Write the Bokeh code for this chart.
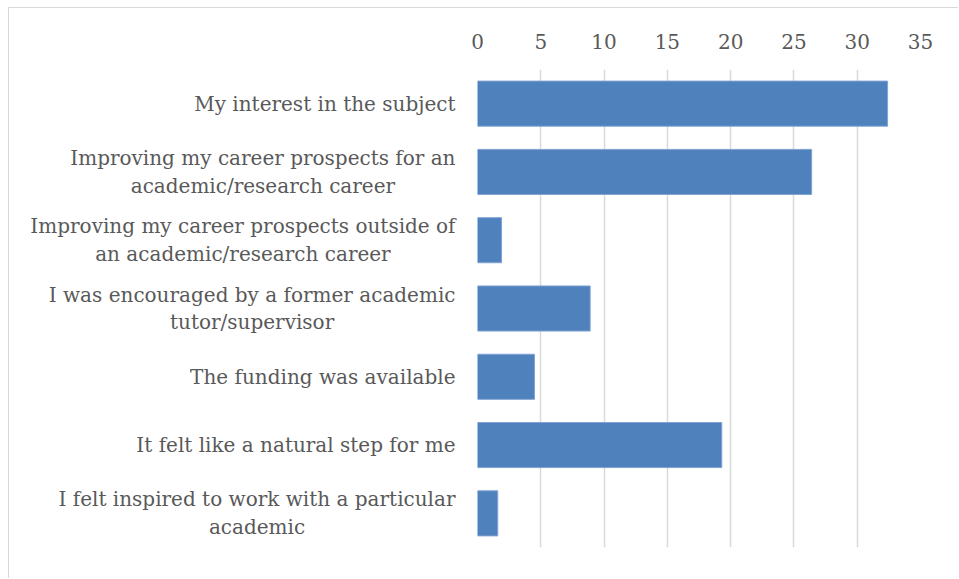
from bokeh.plotting import figure
from bokeh.models import FactorRange, Range1d, FixedTicker, ColumnDataSource
from bokeh.core.properties import value
from bokeh.embed import file_html
from bokeh.resources import INLINE

# Data (top to bottom)
categories = [
    "My interest in the subject",
    "Improving my career prospects for an academic/research career",
    "Improving my career prospects outside of an academic/research career",
    "I was encouraged by a former academic tutor/supervisor",
    "The funding was available",
    "It felt like a natural step for me",
    "I felt inspired to work with a particular academic",
]
tick_labels = [
    "My interest in the subject",
    "Improving my career prospects for an\nacademic/research career",
    "Improving my career prospects outside of\nan academic/research career",
    "I was encouraged by a former academic\ntutor/supervisor",
    "The funding was available",
    "It felt like a natural step for me",
    "I felt inspired to work with a particular\nacademic",
]
values = [32.4, 26.4, 1.9, 8.9, 4.5, 19.3, 1.6]
x_ticks = [0, 5, 10, 15, 20, 25, 30, 35]

FONT = "DejaVu Serif"
TXT = "#595959"
GRID = "#D9D9D9"

p = figure(
    width=950, height=571,
    y_range=FactorRange(factors=list(reversed(categories)), range_padding=0),
    x_range=Range1d(0, 35),
    x_axis_location="above",
    output_backend="svg", toolbar_location=None,
    min_border_left=468, min_border_right=39,
    min_border_top=61, min_border_bottom=32,
)
p.styles = {
    "border-left": "1.5px solid #D9D9D9",
    "border-top": "1.5px solid #D9D9D9",
    "margin-left": "7.5px",
    "margin-top": "6.5px",
}
p.outline_line_color = None

p.hbar(y=categories, right=values, left=0, height=0.66,
       fill_color="#4F81BD", line_color="#7FA3D3", line_width=1)

src = ColumnDataSource(dict(y=categories, x=[0] * len(categories), t=tick_labels))
lab = p.text(x="x", y="y", text="t", source=src, x_offset=-22,
             anchor="center_right", text_align="center",
             text_font=value(FONT), text_font_size="20px", text_color=TXT,
             text_line_height=1.16)
lab.level = "overlay"

# x axis (top)
xa = p.xaxis[0]
xa.ticker = FixedTicker(ticks=x_ticks)
xa.axis_line_color = None
xa.major_tick_line_color = None
xa.minor_tick_line_color = None
xa.major_tick_out = 0
xa.major_label_standoff = 21
xa.major_label_text_font = FONT
xa.major_label_text_font_size = "20px"
xa.major_label_text_color = TXT

p.yaxis.visible = False

p.xgrid.grid_line_color = GRID
p.xgrid.grid_line_width = 1.5
p.ygrid.grid_line_color = None

open("out.html", "w").write(file_html(p, INLINE))
